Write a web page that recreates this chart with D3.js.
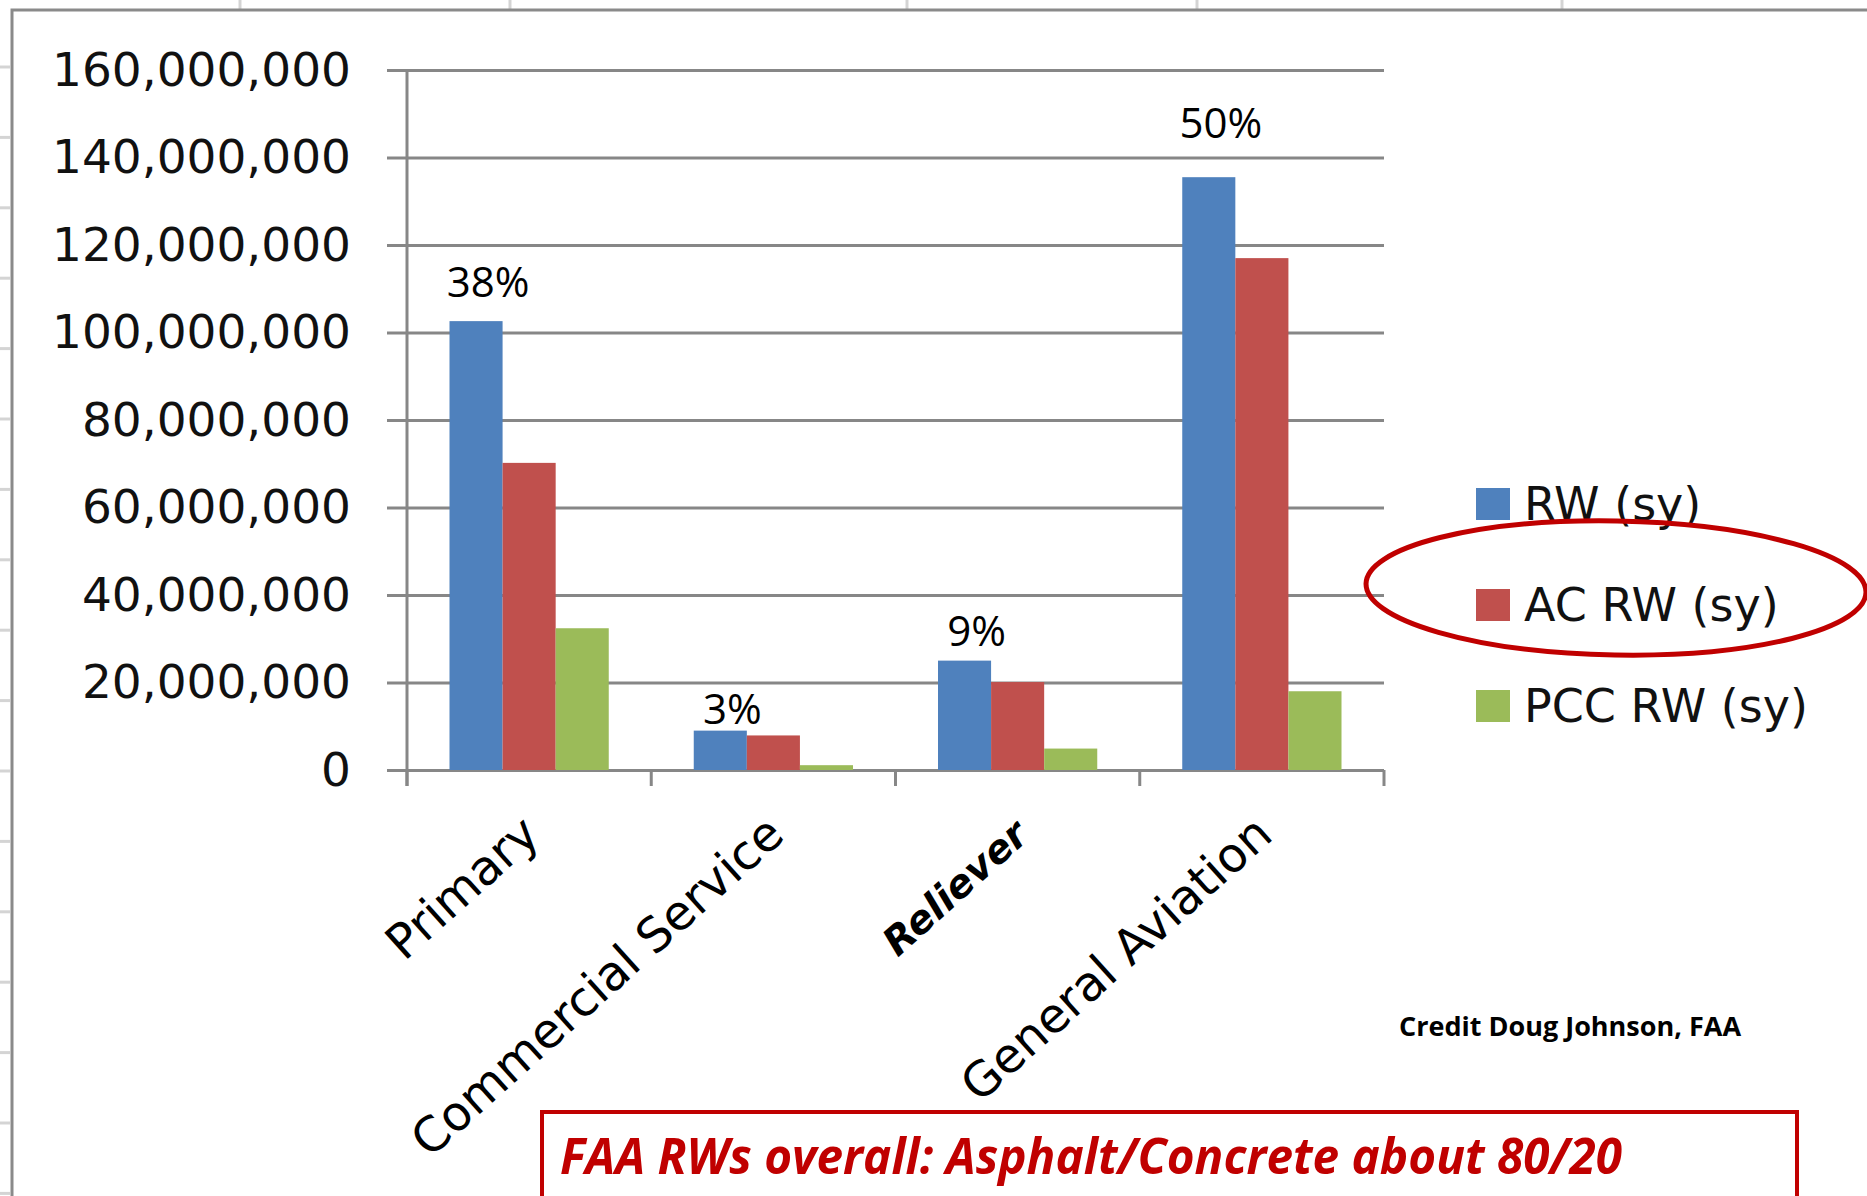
<!DOCTYPE html>
<html>
<head>
<meta charset="utf-8">
<script src="https://cdn.jsdelivr.net/npm/d3@7"></script>
<style>
  body { margin: 0; background: #fff; overflow: hidden; }
</style>
</head>
<body>
<div id="chart"></div>
<script>
// Runway area by airport category (square yards)
const categories = ["Primary", "Commercial Service", "Reliever", "General Aviation"];
const seriesNames = ["RW (sy)", "AC RW (sy)", "PCC RW (sy)"];
const rwValues = [102600000, 9000000, 25000000, 135500000];
const acValues = [70200000, 7900000, 20100000, 117000000];
const pccValues = [32400000, 1100000, 4900000, 18000000];
const shareLabels = ["38%", "3%", "9%", "50%"];
const yTicks = [0, 20000000, 40000000, 60000000, 80000000, 100000000, 120000000, 140000000, 160000000];
const colors = ["#4f81bd", "#c0504d", "#9bbb59"];

const W = 1867, H = 1196;
const plot = { left: 407, right: 1384, top: 70, bottom: 770 };
const tickLen = 20;
const gridColor = "#878787";
// the share labels were placed by hand in the original, so each sits a bit differently
const labelLift = [24, 7, 15, 39];

const svg = d3.select("#chart").append("svg")
    .attr("width", W)
    .attr("height", H);

svg.append("rect").attr("width", W).attr("height", H).attr("fill", "#fff");

// faint spreadsheet lines outside the chart frame
[240, 510, 907, 1197, 1562].forEach(x => {
    svg.append("line").attr("x1", x).attr("x2", x).attr("y1", 0).attr("y2", 9)
        .attr("stroke", "#d4d4d4").attr("stroke-width", 3);
});
for (let y = 67; y < H; y += 70.4) {
    svg.append("line").attr("x1", 0).attr("x2", 10).attr("y1", y).attr("y2", y)
        .attr("stroke", "#d4d4d4").attr("stroke-width", 3);
}

// chart frame
svg.append("path")
    .attr("d", `M12,${H} V10 H${W}`)
    .attr("fill", "none")
    .attr("stroke", "#8a8a8a")
    .attr("stroke-width", 3);

// Scales
const x0 = d3.scaleBand()
    .domain(categories)
    .range([plot.left, plot.right])
    .paddingInner(0.348)
    .paddingOuter(0.174);

const x1 = d3.scaleBand()
    .domain(seriesNames)
    .range([0, x0.bandwidth()]);

const y = d3.scaleLinear()
    .domain([0, 160000000])
    .range([plot.bottom, plot.top]);

// Gridlines + y tick labels
const yAxis = svg.append("g")
    .attr("transform", `translate(${plot.left - tickLen},0)`)
    .call(d3.axisLeft(y)
        .tickValues(yTicks)
        .tickSize(-(plot.right - plot.left + tickLen))
        .tickPadding(36)
        .tickFormat(d3.format(",")));
yAxis.select(".domain").remove();
yAxis.selectAll(".tick line")
    .attr("stroke", gridColor)
    .attr("stroke-width", 3);
yAxis.selectAll(".tick text")
    .attr("fill", "#111")
    .style("font-family", "'DejaVu Sans', sans-serif")
    .style("font-size", "47px");

// Bars
const rows = categories.map((c, i) => ({
    category: c,
    values: [rwValues[i], acValues[i], pccValues[i]]
}));

const groups = svg.selectAll(".bar-group")
    .data(rows)
    .enter().append("g")
    .attr("class", "bar-group")
    .attr("transform", d => `translate(${x0(d.category)},0)`);

groups.selectAll("rect")
    .data(d => d.values.map((v, j) => ({ name: seriesNames[j], value: v, j: j })))
    .enter().append("rect")
    .attr("x", d => x1(d.name))
    .attr("y", d => y(d.value))
    .attr("width", x1.bandwidth())
    .attr("height", d => plot.bottom - y(d.value))
    .attr("fill", d => colors[d.j]);

// y axis line and category boundary ticks
const step = x0.step();
svg.append("line")
    .attr("x1", plot.left).attr("x2", plot.left)
    .attr("y1", plot.top).attr("y2", plot.bottom + 16)
    .attr("stroke", gridColor).attr("stroke-width", 3);
d3.range(categories.length + 1).forEach(i => {
    const xt = plot.left + i * step;
    svg.append("line")
        .attr("x1", xt).attr("x2", xt)
        .attr("y1", plot.bottom).attr("y2", plot.bottom + 16)
        .attr("stroke", gridColor).attr("stroke-width", 3);
});

// Category labels (rotated)
const xAxis = svg.append("g")
    .attr("transform", `translate(0,${plot.bottom})`)
    .call(d3.axisBottom(x0).tickSize(0).tickPadding(0));
xAxis.select(".domain").remove();
xAxis.selectAll(".tick text")
    .attr("fill", "#000")
    .style("font-family", "'DejaVu Sans', sans-serif")
    .style("font-size", d => d === "Reliever" ? "39px" : "48px")
    .attr("text-anchor", "end")
    .attr("dy", 0)
    .attr("transform", "translate(13,68) rotate(-42)")
    .style("font-weight", d => d === "Reliever" ? "bold" : "normal")
    .style("font-style", d => d === "Reliever" ? "italic" : "normal");

// Share labels above the RW bars
svg.selectAll(".share")
    .data(rows)
    .enter().append("text")
    .attr("class", "share")
    .attr("x", d => x0(d.category) + x1(seriesNames[0]) + x1.bandwidth() / 2 + 12)
    .attr("y", (d, i) => y(d.values[0]) - labelLift[i])
    .attr("text-anchor", "middle")
    .style("font-family", "'Open Sans', sans-serif")
    .style("font-size", "42px")
    .attr("fill", "#000")
    .text((d, i) => shareLabels[i]);

// Legend
const legend = svg.selectAll(".legend")
    .data(seriesNames)
    .enter().append("g")
    .attr("class", "legend")
    .attr("transform", (d, i) => `translate(1476,${488 + i * 101})`);
legend.append("rect")
    .attr("width", 34).attr("height", 32)
    .attr("fill", (d, i) => colors[i]);
legend.append("text")
    .attr("x", 48).attr("y", 32)
    .style("font-family", "'DejaVu Sans', sans-serif")
    .style("font-size", "46px")
    .attr("fill", "#111")
    .text(d => d);

// Highlight ellipse round the AC series
svg.append("ellipse")
    .attr("cx", 1616).attr("cy", 588)
    .attr("rx", 250).attr("ry", 67)
    .attr("transform", "rotate(1,1616,588)")
    .attr("fill", "none")
    .attr("stroke", "#c00000")
    .attr("stroke-width", 5);

// Credit
svg.append("text")
    .attr("x", 1399).attr("y", 1036)
    .style("font-family", "'Open Sans', sans-serif")
    .style("font-weight", "bold")
    .style("font-size", "27px")
    .attr("fill", "#000")
    .text("Credit Doug Johnson, FAA");

// Callout box
svg.append("rect")
    .attr("x", 542).attr("y", 1112)
    .attr("width", 1255).attr("height", 140)
    .attr("fill", "#fff")
    .attr("stroke", "#c00000")
    .attr("stroke-width", 4);
svg.append("text")
    .attr("x", 560).attr("y", 1174)
    .attr("textLength", 1062)
    .attr("lengthAdjust", "spacingAndGlyphs")
    .style("font-family", "'Open Sans', sans-serif")
    .style("font-weight", "bold")
    .style("font-style", "italic")
    .style("font-size", "50px")
    .attr("fill", "#c00000")
    .text("FAA RWs overall: Asphalt/Concrete about 80/20");
</script>
</body>
</html>
